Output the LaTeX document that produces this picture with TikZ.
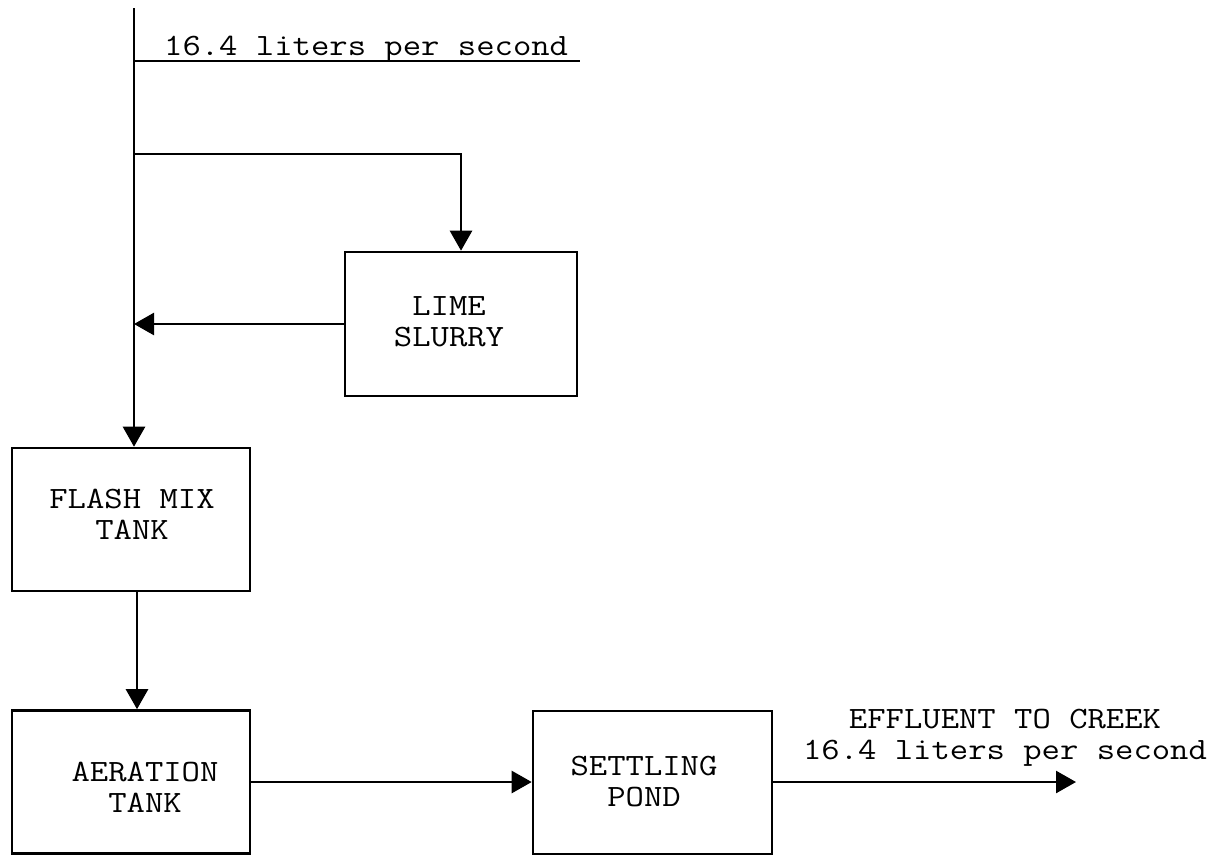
\documentclass[tikz,border=0pt]{standalone}
\usepackage{fontspec}
\newfontfamily\tw[FakeStretch=1.15]{Latin Modern Mono}
\usetikzlibrary{arrows.meta}
\begin{document}
\begin{tikzpicture}[x=1pt,y=-1pt,
  every node/.style={font=\tw\fontsize{31}{31}\selectfont},
  box/.style={draw,line width=2.6pt,inner sep=0pt,minimum width=238pt,minimum height=143pt},
  lbl/.style={inner sep=0pt,align=center},
  pipe/.style={line width=2.6pt},
  arr/.style={line width=2.6pt,-{Triangle[length=20pt,width=22pt]}}]
\useasboundingbox (0,0) rectangle (1228,857);
% boxes
\node[box,minimum width=232pt,minimum height=144pt] (lime) at (461,324) {};
\node[box] (flash) at (131,519.5) {};
\node[box] (aer) at (131,782) {};
\node[box,minimum width=239pt] (settle) at (652.5,782.5) {};
% box texts
\node[lbl] (limeT) at (449,322) {LIME\\SLURRY};
\node[lbl] (flashT) at (132,514) {FLASH MIX\\TANK};
\node[lbl] (aerT) at (145,787) {AERATION\\TANK};
\node[lbl] (settleT) at (644,782) {SETTLING\\POND};
% coordinates of the main line
\coordinate (top) at (134,8);
\coordinate (t1) at (134,61);
\coordinate (t2) at (580,61);
\coordinate (b1) at (134,154);
\coordinate (out) at (1076,782);
% top flow
\draw[pipe] (t1) -- (t2);
\node[lbl,anchor=base west] (flowT) at (164,55) {16.4 liters per second};
\draw[arr] (top) -- (top |- flash.north);
\draw[arr] (b1) -| (lime.north);
\draw[arr] (lime.west) -- (lime.west -| top);
% lower flow
\draw[arr] ([xshift=6pt]flash.south) -- ([xshift=6pt]flash.south |- aer.north);
\draw[arr] (aer.east) -- (aer.east -| settle.west);
\draw[arr] (settle.east |- out) -- (out);
\node[lbl] (effT) at (1005,738) {EFFLUENT TO CREEK\\16.4 liters per second};
\end{tikzpicture}
\end{document}
